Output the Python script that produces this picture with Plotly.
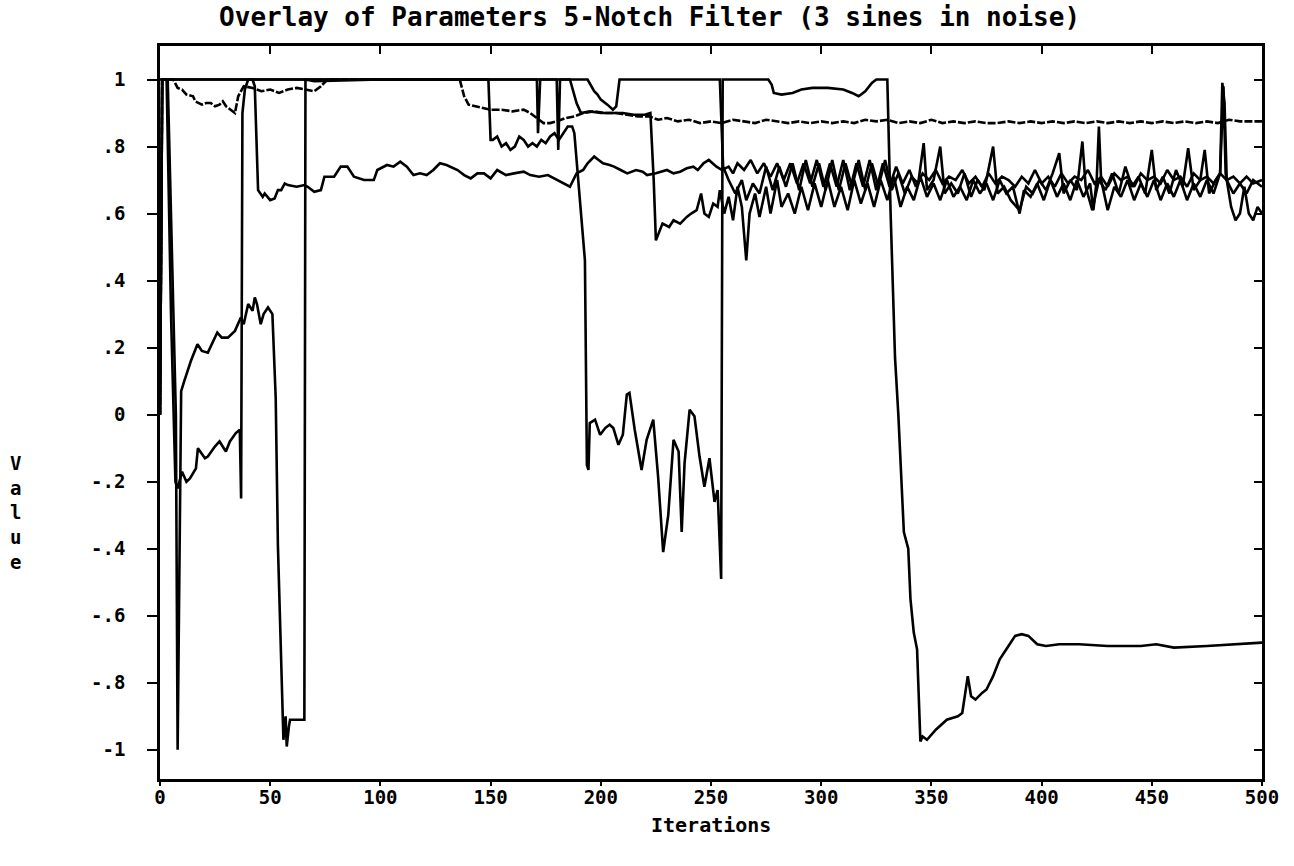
import plotly.graph_objects as go

# ---- data: (iteration, value) ----
param_a = [(0,0.0),(1,1.0),(3.5,1.0),(5.5,0.45),(7.2,0.0),(8,-1.0),(8.6,-0.55),(9.2,-0.16),(9.6,0.07),(11,0.1),
 (14,0.16),(17,0.21),(19,0.19),(21.7,0.185),(24,0.22),(26,0.245),(28,0.23),(30.8,0.23),(34,0.25),(36.7,0.29),
 (38,0.27),(40,0.33),(42,0.31),(43,0.35),(44,0.33),(45.7,0.27),(47,0.3),(49,0.32),(51,0.30),(52.5,0.05),
 (53.5,-0.39),(55,-0.77),(56,-0.97),(57,-0.9),(57.5,-0.99),(58.5,-0.93),(59,-0.91),(65.5,-0.91),(66,1.0),(70,0.995),
 (100,1.0),(140,1.0),(171,1.0),(171.5,0.84),(172.5,1.0),(194,1.0),(197,0.965),(198.5,0.955),(200,0.94),(203,0.925),
 (205.5,0.91),(207,0.92),(208.5,1.0),(230,1.0),(254,1.0),(255.5,0.74),(258,0.70),(261,0.66),(264,0.70),(266,0.64),
 (269,0.69),(272,0.66),(275,0.74),(278,0.67),(281,0.74),(284,0.68),(287,0.75),(290,0.67),(293,0.76),(296,0.68),
 (299,0.75),(302,0.67),(305,0.76),(308,0.67),(311,0.75),(314,0.68),(317,0.76),(320,0.67),(323,0.75),(326,0.68),
 (329,0.76),(332,0.67),(335,0.72),(338,0.66),(341,0.71),(344,0.69),(346.5,0.81),(348,0.67),(351,0.70),(354,0.80),
 (356,0.66),(359,0.69),(362,0.66),(365,0.72),(368,0.65),(371,0.70),(374,0.67),(378,0.80),(380,0.66),(383,0.68),
 (386,0.64),(390,0.61),(393,0.68),(396,0.66),(399,0.70),(402,0.67),(405,0.72),(408,0.78),(410,0.66),(413,0.70),
 (416,0.67),(418.5,0.815),(420,0.68),(423,0.61),(426,0.70),(429,0.67),(432,0.72),(435,0.66),(438,0.74),(441,0.68),
 (444,0.71),(447,0.66),(450,0.79),(452,0.67),(455,0.71),(458,0.66),(461,0.73),(464,0.68),(466.5,0.795),(469,0.67),
 (472,0.70),(474,0.79),(476,0.66),(479,0.70),(481,0.72),(482,0.99),(483,0.93),(484,0.70),(487,0.66),(490,0.69),
 (493,0.66),(496,0.70),(500,0.68)]

param_b = [(0,0.0),(1,1.0),(42,1.0),(43,0.98),(44.5,0.67),(46.6,0.65),(47.5,0.66),(50,0.64),(52,0.645),(53.5,0.67),
 (55,0.67),(56.6,0.69),(58,0.685),(62,0.68),(65.6,0.685),(67,0.68),(70,0.665),(73,0.67),(74.6,0.71),(79,0.71),
 (82,0.74),(85,0.74),(88,0.71),(92.6,0.70),(97,0.70),(98.6,0.73),(103,0.745),(106,0.74),(109,0.755),(112,0.74),
 (115,0.715),(118,0.72),(121,0.715),(124,0.73),(127,0.75),(130,0.745),(135,0.73),(138,0.715),(141,0.705),(144,0.72),
 (147,0.72),(150,0.705),(153,0.73),(157,0.715),(160.6,0.72),(165,0.725),(168,0.715),(172,0.71),(176,0.715),(179,0.705),
 (183,0.69),(186,0.68),(189,0.72),(192,0.73),(194,0.75),(197,0.77),(199,0.76),(201,0.75),(204,0.745),(206,0.74),
 (209,0.73),(212,0.72),(216,0.73),(219,0.725),(221,0.715),(225,0.72),(230,0.73),(233,0.72),(236,0.725),(239,0.735),
 (242,0.74),(244,0.73),(246.6,0.75),(249,0.76),(252.5,0.74),(255,0.73),(258,0.74),(260,0.72),(262,0.75),(265,0.73),
 (268,0.76),(271,0.72),(274,0.75),(277,0.71),(280,0.75),(283,0.70),(286,0.75),(289,0.69),(292,0.75),(295,0.69),
 (298,0.76),(301,0.68),(304,0.75),(307,0.68),(310,0.76),(313,0.67),(316,0.75),(319,0.68),(322,0.76),(325,0.67),
 (328,0.75),(331,0.68),(334,0.74),(337,0.69),(340,0.73),(343,0.68),(346,0.72),(349,0.70),(352,0.73),(355,0.69),
 (358,0.71),(361,0.70),(364,0.73),(367,0.69),(370,0.71),(373,0.68),(376,0.72),(379,0.69),(382,0.71),(385,0.70),
 (388,0.68),(391,0.71),(394,0.69),(397,0.73),(400,0.69),(403,0.71),(406,0.68),(409,0.72),(412,0.69),(415,0.71),
 (418,0.70),(421,0.73),(424,0.69),(427,0.71),(430,0.68),(433,0.72),(436,0.70),(439,0.71),(442,0.68),(445,0.72),
 (448,0.70),(451,0.71),(454,0.69),(457,0.73),(460,0.70),(463,0.71),(466,0.68),(469,0.72),(472,0.70),(475,0.71),
 (478,0.69),(481,0.72),(484,0.70),(487,0.71),(490,0.69),(493,0.71),(496,0.69),(500,0.70)]

param_c = [(0,1.0),(149,1.0),(150,0.82),(151,0.82),(153,0.83),(155,0.80),(157,0.81),(159,0.79),(161,0.80),(163,0.83),
 (165,0.82),(167,0.80),(169,0.81),(171,0.80),(173,0.82),(175,0.81),(177,0.83),(179,0.84),(181,0.82),(183,0.84),
 (185,0.86),(187,0.86),(188,0.84),(192.8,0.46),(193.7,-0.15),(194.4,-0.165),(195,-0.025),(197.4,-0.015),(199.7,-0.06),
 (202,-0.04),(204,-0.03),(205.7,-0.04),(208,-0.09),(210,-0.06),(211.8,0.06),(213,0.065),(215.4,-0.045),(218.5,-0.165),
 (220.8,-0.075),(223.8,-0.015),(226,-0.185),(228.3,-0.41),(230.6,-0.30),(233,-0.075),(235.3,-0.11),(236.7,-0.35),
 (238,-0.145),(240.3,0.015),(242.5,-0.005),(244.8,-0.125),(247,-0.215),(249.3,-0.13),(251.6,-0.26),(253,-0.225),
 (254.6,-0.49),(255.3,1.0),(276,1.0),(277.5,0.985),(278.5,0.96),(282,0.955),(287,0.96),(291,0.97),(296,0.975),
 (303,0.975),(310,0.97),(314,0.96),(317,0.95),(320,0.965),(323,0.99),(325,1.0),(330,1.0),(331.5,0.6),(333.5,0.17),
 (335,0.0),(336.5,-0.2),(337.5,-0.35),(339.5,-0.4),(340.5,-0.55),(342,-0.65),(343.5,-0.7),(345,-0.975),(346,-0.96),
 (348,-0.97),(352,-0.94),(357,-0.91),(362,-0.9),(364,-0.89),(366.5,-0.78),(368,-0.84),(370,-0.85),(373,-0.83),
 (375,-0.82),(378,-0.78),(381,-0.73),(384,-0.70),(388,-0.66),(391,-0.655),(394,-0.66),(398,-0.685),(402,-0.69),
 (408,-0.685),(417,-0.685),(430,-0.69),(445,-0.69),(452,-0.685),(460,-0.695),(475,-0.69),(490,-0.685),(500,-0.68)]

param_d = [(0,0.0),(1,1.0),(6,1.0),(8,0.975),(10,0.97),(12,0.955),(15,0.95),(16,0.935),(19,0.925),(21,0.93),
 (23,0.93),(25,0.92),(27,0.925),(28.5,0.935),(30,0.92),(32,0.91),(34,0.9),(35.5,0.95),(38,0.98),(42,0.975),
 (46,0.965),(50,0.97),(54,0.96),(58,0.97),(62,0.975),(66,0.97),(70,0.965),(73,0.98),(76,1.0),(136,1.0),
 (138,0.95),(140,0.925),(143,0.92),(147,0.915),(150,0.91),(155,0.91),(160,0.905),(165,0.91),(168,0.9),(171,0.885),
 (174,0.87),(177,0.87),(180,0.875),(184,0.885),(188,0.89),(192,0.9),(197,0.905),(202,0.9),(207,0.9),(212,0.895),
 (217,0.89),(222,0.89),(226,0.88),(230,0.885),(235,0.875),(240,0.88),(245,0.87),(250,0.875),(255,0.87),(260,0.88),
 (265,0.875),(270,0.87),(275,0.88),(280,0.875),(285,0.87),(290,0.875),(295,0.87),(300,0.875),(305,0.87),(310,0.875),
 (315,0.87),(320,0.88),(325,0.875),(330,0.88),(335,0.87),(340,0.875),(345,0.87),(350,0.88),(355,0.87),(360,0.875),
 (365,0.87),(370,0.875),(375,0.87),(380,0.87),(385,0.875),(390,0.87),(395,0.875),(400,0.87),(405,0.875),(410,0.87),
 (415,0.875),(420,0.87),(425,0.875),(430,0.87),(435,0.875),(440,0.87),(445,0.875),(450,0.87),(455,0.875),(460,0.87),
 (465,0.875),(470,0.87),(475,0.875),(480,0.87),(485,0.88),(490,0.875),(495,0.875),(500,0.875)]

param_e = [(0,0.0),(1,1.0),(3,1.0),(5,0.3),(7,-0.2),(8,-0.22),(10,-0.17),(12,-0.2),(13.6,-0.19),(16.3,-0.16),
 (17.2,-0.1),(20.4,-0.13),(21.7,-0.125),(24.9,-0.095),(27,-0.08),(29.9,-0.11),(31.7,-0.08),(34.4,-0.055),(36.2,-0.045),
 (36.8,-0.25),(37.4,0.9),(38.5,0.97),(40,1.0),(180,1.0),(180.7,0.79),(181.5,1.0),(186,1.0),(189,0.93),(191,0.9),
 (195,0.905),(200,0.9),(205,0.9),(210,0.9),(215,0.895),(220,0.895),(222.5,0.9),(224,0.7),(225,0.52),(226.8,0.55),
 (228,0.57),(231,0.56),(233,0.58),(236,0.57),(239,0.59),(241,0.6),(243.5,0.61),(245.5,0.66),(247,0.6),(249,0.59),
 (251,0.63),(253,0.62),(254,0.67),(256,0.6),(258,0.65),(260,0.58),(262,0.68),(264,0.62),(266,0.46),(267.5,0.6),
 (270,0.66),(272,0.59),(275,0.68),(277,0.60),(280,0.70),(282,0.62),(285,0.66),(288,0.60),(291,0.68),(294,0.61),
 (297,0.69),(300,0.62),(303,0.70),(306,0.62),(309,0.68),(312,0.61),(315,0.70),(318,0.63),(321,0.69),(324,0.62),
 (327,0.70),(330,0.64),(333,0.71),(336,0.62),(339,0.68),(342,0.64),(345,0.71),(348,0.65),(351,0.69),(354,0.64),
 (357,0.70),(360,0.65),(363,0.68),(366,0.64),(369,0.70),(372,0.66),(375,0.69),(378,0.64),(381,0.70),(384,0.66),
 (387,0.68),(390,0.60),(392,0.67),(395,0.65),(398,0.69),(401,0.64),(404,0.70),(407,0.65),(410,0.69),(413,0.64),
 (416,0.70),(419,0.65),(422,0.69),(423.5,0.61),(425,0.70),(426,0.86),(427,0.70),(430,0.61),(433,0.68),(436,0.65),
 (439,0.70),(442,0.64),(445,0.69),(448,0.65),(451,0.70),(454,0.64),(457,0.69),(460,0.65),(463,0.70),(466,0.64),
 (469,0.69),(472,0.65),(475,0.70),(478,0.66),(481,0.72),(482.5,0.98),(483.5,0.72),(486,0.62),(488,0.58),(490,0.60),
 (492,0.68),(494,0.60),(496,0.58),(498,0.62),(500,0.60)]

x_ticks = [0, 50, 100, 150, 200, 250, 300, 350, 400, 450, 500]
y_ticks = [1, 0.8, 0.6, 0.4, 0.2, 0, -0.2, -0.4, -0.6, -0.8, -1]
y_tick_text = ["1", ".8", ".6", ".4", ".2", "0", "-.2", "-.4", "-.6", "-.8", "-1"]

title_text = "Overlay of Parameters 5-Notch Filter (3 sines in noise)"
x_title = "Iterations"
y_title = "Value"

FONT = "DejaVu Sans Mono"
X_RANGE = [0, 500]
Y_RANGE = [-1.087, 1.10]

fig = go.Figure()
series = [(param_a, "solid"), (param_b, "solid"), (param_c, "solid"),
          (param_d, "8px,2px"), (param_e, "solid")]
for pts, dash in series:
    fig.add_trace(go.Scatter(
        x=[p[0] for p in pts], y=[p[1] for p in pts], mode="lines",
        line=dict(color="black", width=2.6, dash=dash),
        showlegend=False, hoverinfo="skip"))

# empty trace carrying the mirrored top / right axes (ticks pointing inward)
fig.add_trace(go.Scatter(x=[], y=[], xaxis="x2", yaxis="y2",
                         showlegend=False, hoverinfo="skip"))

tick_font = dict(family=FONT, size=19, color="black", weight="bold")
fig.update_layout(
    width=1294, height=866,
    margin=dict(l=160, r=32, t=46, b=87),
    paper_bgcolor="white", plot_bgcolor="white",
    title=dict(text=title_text, x=0.502, xanchor="center", y=0.9805, yanchor="middle",
               font=dict(family=FONT, size=26, color="black", weight="bold")),
    xaxis=dict(range=X_RANGE, tickvals=x_ticks, ticks="outside", ticklen=4, tickwidth=2,
               tickcolor="black", showline=True, linewidth=2.5, linecolor="black",
               mirror=True, showgrid=False, zeroline=False, tickfont=tick_font,
               ticklabelstandoff=-5),
    yaxis=dict(range=Y_RANGE, tickvals=y_ticks, ticktext=y_tick_text, ticks="outside",
               ticklen=10, tickwidth=2, tickcolor="black", showline=True, linewidth=2.5,
               linecolor="black", mirror=True, showgrid=False, zeroline=False,
               tickfont=tick_font, ticklabelstandoff=18),
    xaxis2=dict(overlaying="x", side="top", range=X_RANGE, tickvals=x_ticks, ticks="inside",
                ticklen=8, tickwidth=2, tickcolor="black", showticklabels=False,
                showgrid=False, zeroline=False, showline=False),
    yaxis2=dict(overlaying="y", side="right", range=Y_RANGE, tickvals=y_ticks, ticks="inside",
                ticklen=8, tickwidth=2, tickcolor="black", showticklabels=False,
                showgrid=False, zeroline=False, showline=False),
    annotations=[
        dict(text=x_title, xref="paper", yref="paper", x=0.5, y=-0.063, xanchor="center",
             yanchor="middle", showarrow=False,
             font=dict(family=FONT, size=20, color="black", weight="bold")),
        dict(text="<br>".join(list(y_title)), xref="paper", yref="paper", x=-0.131, y=0.364,
             xanchor="center", yanchor="middle", showarrow=False,
             font=dict(family=FONT, size=19, color="black", weight="bold")),
    ],
)

fig.write_html("out.html")
